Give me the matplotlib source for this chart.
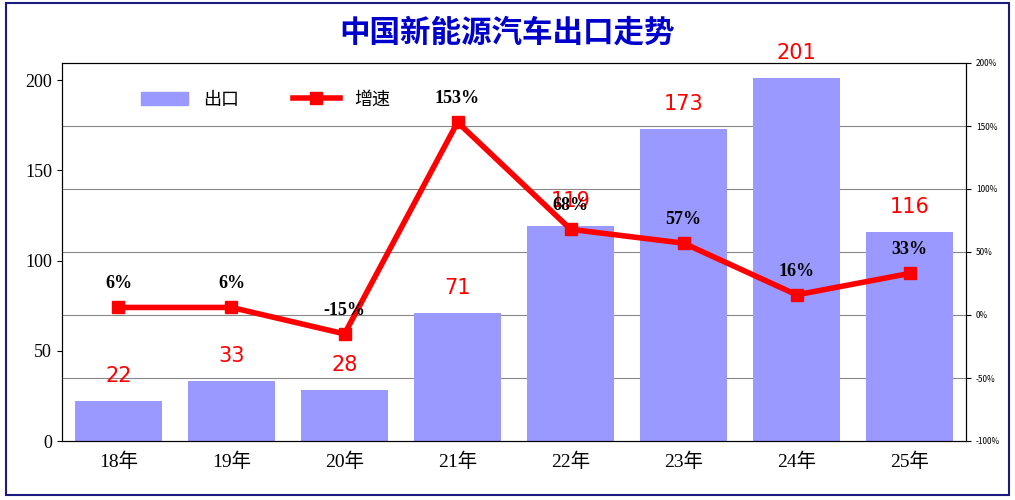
import matplotlib
matplotlib.use("Agg")
import matplotlib.pyplot as plt
from matplotlib.patches import Rectangle

plt.rcParams['font.family'] = ['Noto Sans CJK SC', 'DejaVu Sans']

years = ['18年', '19年', '20年', '21年', '22年', '23年', '24年', '25年']
exports = [22, 33, 28, 71, 119, 173, 201, 116]
growth = [6, 6, -15, 153, 68, 57, 16, 33]

fig = plt.figure(figsize=(10.15, 5.0), dpi=100)
fig.patches.append(Rectangle((0.006, 0.01), 0.988, 0.985, transform=fig.transFigure,
                             fill=False, edgecolor='#1a1a80', linewidth=1.5))
ax = fig.add_axes([0.061, 0.118, 0.891, 0.756])
ax2 = ax.twinx()

LMAX = 209.5
x = list(range(len(years)))
for v in [-50, 0, 50, 100, 150]:
    ax.axhline((v + 100) / 300 * LMAX, color='#888888', linewidth=0.8, zorder=0)
ax.bar(x, exports, width=0.77, color='#9999FF', zorder=2)
ax.set_ylim(0, LMAX)
ax.set_xlim(-0.5, 7.5)
ax.set_yticks([0, 50, 100, 150, 200])
ax.set_xticks(x)
ax.set_xticklabels(years, fontsize=14, family=['Liberation Serif', 'Noto Sans CJK SC'])
for lbl in ax.get_yticklabels():
    lbl.set_fontsize(13); lbl.set_family('Liberation Serif')
ax.tick_params(axis='x', length=0, pad=8)
ax2.set_ylim(-100, 200)
ax2.set_yticks([-100, -50, 0, 50, 100, 150, 200])
ax2.set_yticklabels([f'{v}%' for v in [-100, -50, 0, 50, 100, 150, 200]], fontsize=6)
for i, v in enumerate(exports):
    ax2.text(i, v / LMAX * 300 - 100 + 12, str(v), color='red', fontsize=15, ha='center',
             va='bottom', family='DejaVu Sans', zorder=5)
ln, = ax2.plot(x, growth, color='red', linewidth=4, marker='s', markersize=9, zorder=4)
for i, g in enumerate(growth):
    ax2.text(i, g + 12, f'{g}%', color='black', fontsize=13, fontweight='bold',
             ha='center', va='bottom', family='Liberation Serif', zorder=5)
bar_h = Rectangle((0, 0), 1, 1, color='#9999FF')
ax2.legend([bar_h, ln], ['出口', '增速'], loc='upper left', bbox_to_anchor=(0.07, 0.97),
           ncol=2, frameon=False, fontsize=13, handlelength=2.6, columnspacing=3)
fig.text(0.5, 0.935, '中国新能源汽车出口走势', ha='center', va='center', fontsize=22,
         color='#0000CC', fontweight='bold')
fig.savefig('out.png')
